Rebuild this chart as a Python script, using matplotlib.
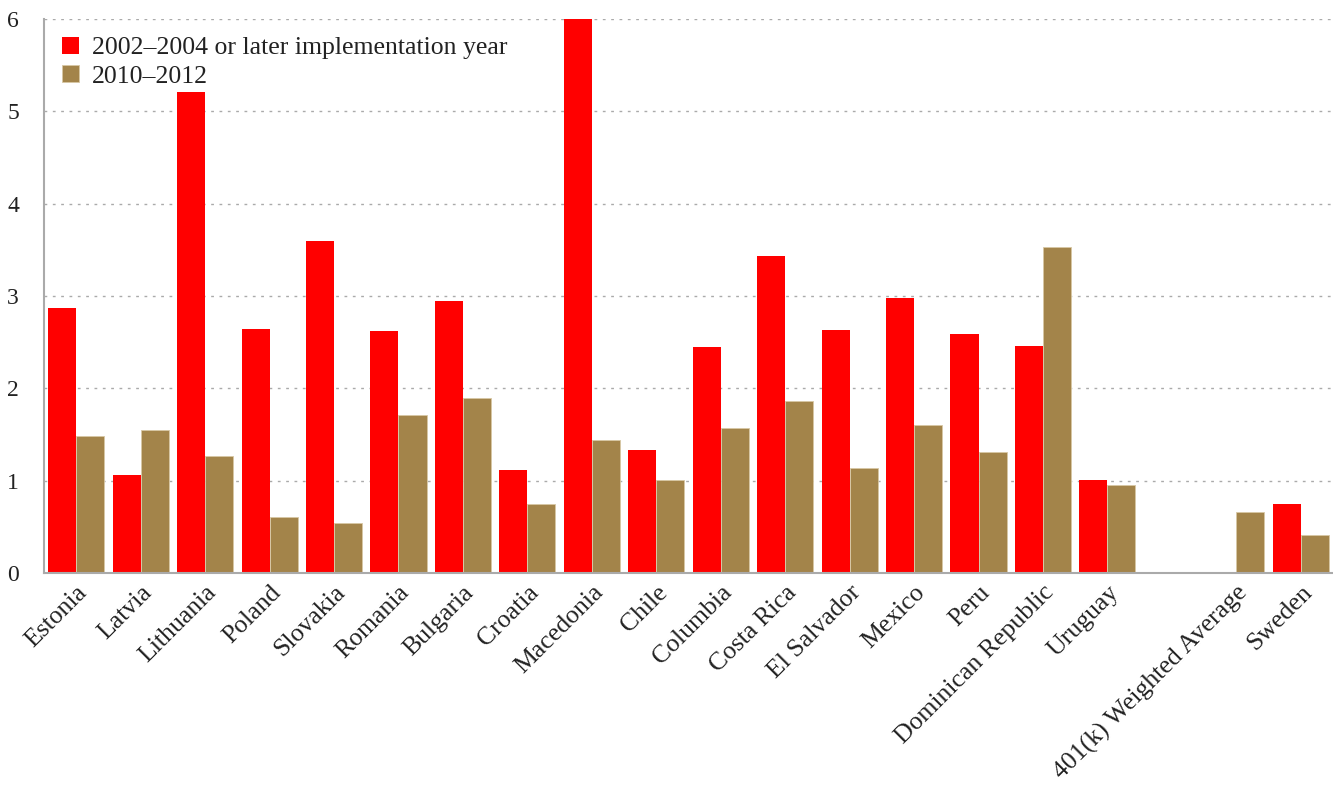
import matplotlib
matplotlib.use("Agg")
import matplotlib.pyplot as plt
import numpy as np

categories = ["Estonia", "Latvia", "Lithuania", "Poland", "Slovakia", "Romania",
              "Bulgaria", "Croatia", "Macedonia", "Chile", "Columbia", "Costa Rica",
              "El Salvador", "Mexico", "Peru", "Dominican Republic", "Uruguay",
              "", "401(k) Weighted Average", "Sweden"]
early = [2.87, 1.06, 5.21, 2.64, 3.60, 2.62, 2.94, 1.12, 6.05, 1.33, 2.45, 3.43,
         2.63, 2.98, 2.59, 2.46, 1.01, np.nan, np.nan, 0.75]
late = [1.48, 1.55, 1.27, 0.61, 0.54, 1.71, 1.90, 0.75, 1.44, 1.01, 1.57, 1.86,
        1.14, 1.60, 1.31, 3.53, 0.95, np.nan, 0.66, 0.41]
series_names = ["2002\u20132004 or later implementation year", "2010\u20132012"]
yticks = [0, 1, 2, 3, 4, 5, 6]

plt.rcParams['font.family'] = ['Liberation Serif', 'DejaVu Serif']

fig = plt.figure(figsize=(13.33, 7.85), dpi=100)
ax = fig.add_axes([0.033, 0.270, 0.967, 0.706])

x = np.arange(len(categories))
w = 0.435
red = "#FF0000"
brown = "#A3844A"
ax.bar(x - w/2, early, width=w, color=red, label=series_names[0], zorder=3)
ax.bar(x + w/2, late, width=w, color=brown, edgecolor="#D8C8A4", linewidth=0.6,
       label=series_names[1], zorder=3)

ax.set_xlim(-0.5, len(categories) - 0.5)
ax.set_ylim(0, 6)
ax.set_yticks(yticks)
ax.set_yticklabels([str(t) for t in yticks], fontsize=17, color="#222222")
ax.set_xticks(x)
ax.set_xticklabels(categories, rotation=45, ha="right", rotation_mode="anchor",
                   fontsize=18.5, color="#222222")
ax.tick_params(axis="both", length=0)
ax.tick_params(axis="x", pad=6)
ax.tick_params(axis="y", pad=18)

for t in yticks[1:]:
    ax.axhline(t, color="#AAAAAA", linestyle=(0, (2, 4)), linewidth=1.0, zorder=1)

for s in ["top", "right"]:
    ax.spines[s].set_visible(False)
for s in ["left", "bottom"]:
    ax.spines[s].set_color("#AAAAAA")
    ax.spines[s].set_linewidth(1.5)
ax.spines["left"].set_zorder(4)
ax.spines["bottom"].set_zorder(4)

leg = ax.legend(loc="upper left", bbox_to_anchor=(0.0, 1.0), frameon=False,
                fontsize=18.5, handlelength=0.65, handleheight=0.65, handletextpad=0.5,
                labelspacing=0.22, borderaxespad=0.3, labelcolor="#222222")

fig.savefig("out.png", dpi=100)
